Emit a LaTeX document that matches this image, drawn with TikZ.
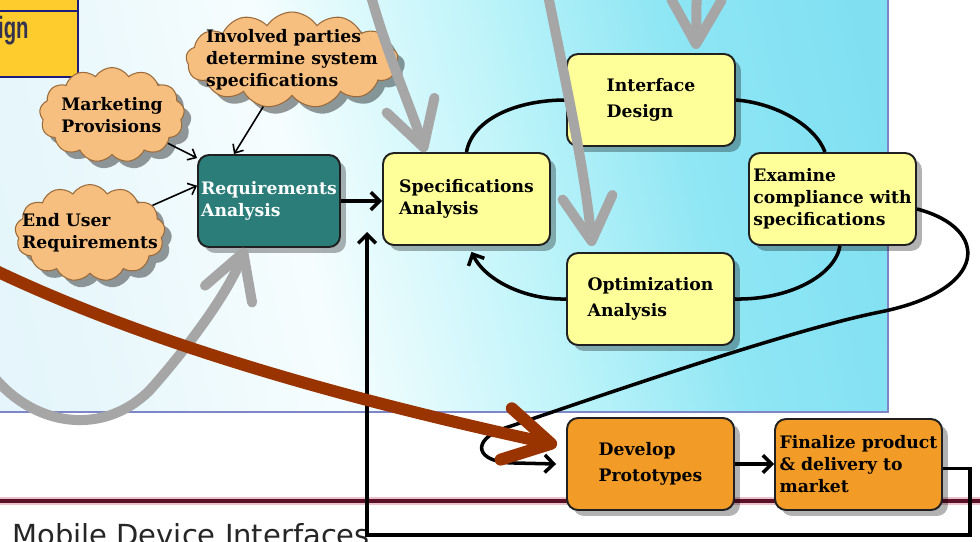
\documentclass[tikz,border=0pt]{standalone}
\usepackage{fontspec}
\setmainfont{DejaVu Serif}
\newfontfamily\labelsans{DejaVu Sans}
\newfontfamily\headsans{Liberation Sans}
\usetikzlibrary{shapes.symbols,arrows.meta,shadows,calc}

\definecolor{panelA}{HTML}{DFF1FA}
\definecolor{panelB}{HTML}{E6F6FB}
\definecolor{panelC}{HTML}{F6FDFE}
\definecolor{panelD}{HTML}{C2F5FA}
\definecolor{panelE}{HTML}{8FE6F4}
\definecolor{panelF}{HTML}{80E0F2}
\definecolor{panelrule}{HTML}{7F86C8}
\definecolor{railcore}{HTML}{5A1026}
\definecolor{railhalo}{HTML}{EBC2CB}
\definecolor{tabyellow}{HTML}{FFCC2E}
\definecolor{tabnavy}{HTML}{1C1C7A}
\definecolor{tabtext}{HTML}{33334F}
\definecolor{noteyellow}{HTML}{FFFF99}
\definecolor{buildorange}{HTML}{F29B26}
\definecolor{reqteal}{HTML}{2A7D78}
\definecolor{boxedge}{HTML}{202020}
\definecolor{cloudfill}{HTML}{F7BF7F}
\definecolor{cloudedge}{HTML}{9A6A3A}
\definecolor{cuegray}{HTML}{A6A6A6}
\definecolor{rust}{HTML}{993300}

\pgfdeclarehorizontalshading{panelshade}{100bp}{color(0bp)=(panelA); color(25bp)=(panelB); color(41bp)=(panelC); color(54bp)=(panelD); color(66bp)=(panelE); color(78bp)=(panelF); color(100bp)=(panelF)}

\newcommand\boxfont{\fontsize{9.8}{12.5}\selectfont\bfseries}
\newcommand\boxfontwide{\fontsize{9.8}{14.8}\selectfont\bfseries}

\begin{document}
\begin{tikzpicture}[x=0.02cm,y=-0.02cm,
  procbox/.style={draw=boxedge, line width=1.1pt, rounded corners=0.22cm,
    minimum width=3.34cm, minimum height=1.84cm, align=left, inner sep=0pt,
    font=\boxfont,
    drop shadow={shadow xshift=0.12cm, shadow yshift=-0.12cm, fill=black, opacity=0.3}},
  notebox/.style={procbox, fill=noteyellow},
  buildbox/.style={procbox, fill=buildorange},
  idea/.style={cloud, cloud puffs=13, cloud puff arc=115, cloud ignores aspect,
    draw=cloudedge, line width=0.6pt, fill=cloudfill, align=left,
    inner xsep=-0.75cm, inner ysep=-0.3cm,
    font=\boxfont,
    drop shadow={shadow xshift=0.14cm, shadow yshift=-0.14cm, fill=black, opacity=0.4}},
  flow/.style={draw=black, line width=2pt},
  flowarrow/.style={flow, -{Straight Barb[length=5pt,width=10pt]}},
  cue/.style={draw=black, line width=0.9pt, -{Straight Barb[length=4pt,width=7pt]}},
  grayarrow/.style={draw=cuegray, line width=0.2cm, line cap=round,
    -{Straight Barb[length=0.88cm,width=1.0cm,round]}},
  rustarrow/.style={draw=rust, line width=0.24cm, line cap=round,
    -{Straight Barb[length=0.92cm,width=1.05cm,round]}}
]
\useasboundingbox (0,0) rectangle (980,541);
\clip (0,0) rectangle (980,541);

% backdrop and the shaded work area
\fill[white] (0,0) rectangle (980,541);
\shade[shading=panelshade, shading angle=13] (-2,-2) rectangle (888,412);
\draw[panelrule, line width=1.2pt] (-2,412) -- (888,412) -- (888,-2);

% lane rule near the bottom
\draw[railhalo, line width=4.6pt] (0,501) -- (980,501);
\draw[railcore, line width=2pt] (0,501) -- (980,501);

% tab in the corner
\draw[fill=tabyellow, draw=tabnavy, line width=1.6pt] (-10,-10) rectangle (78,77);
\draw[tabnavy, line width=1.6pt] (-10,11) -- (78,11);
\node[anchor=base east, inner sep=0pt, text=tabtext, font=\headsans\bfseries\fontsize{17.5}{18}\selectfont]
  (tab) at (29,38) {\scalebox{0.66}[1]{Design}};

% lane label
\node[anchor=base west, inner sep=0pt, text=black!85, font=\labelsans\fontsize{16.5}{18}\selectfont]
  (lane) at (12,545) {Mobile Device Interfaces};

% inputs
\node[idea, minimum width=4.24cm, minimum height=1.92cm] (inv) at (292,60)
  {Involved parties\\determine system\\specifications};
\node[idea, minimum width=2.9cm, minimum height=1.9cm] (mkt) at (112,115)
  {Marketing\\Provisions};
\node[idea, minimum width=3.0cm, minimum height=1.94cm] (eu) at (90,233)
  {End User\\Requirements};

% process steps
\node[procbox, fill=reqteal, text=white, minimum width=2.84cm] (req) at (269,201)
  {Requirements\\Analysis};
\node[notebox] (spec) at (466.5,199) {Specifications\\Analysis};
\node[notebox, font=\boxfontwide, minimum width=3.36cm] (int) at (651,100) {Interface\\Design};
\node[notebox] (exam) at (832.5,199) {Examine\\compliance with\\specifications};
\node[notebox, font=\boxfontwide] (opt) at (650.5,299) {Optimization\\Analysis};
\node[buildbox, font=\boxfontwide] (dev) at (650.5,464) {Develop\\Prototypes};
\node[buildbox, minimum height=1.82cm] (fin) at (858.5,464.5) {Finalize product\\\& delivery to\\market};

% inputs feeding the analysis
\draw[cue] (mkt) -- ([yshift=-0.08cm]req.north west);
\draw[cue] (eu) -- (req.168);
\draw[cue] (inv) -- ([xshift=-0.7cm]req.north);

% main flow
\draw[flowarrow] (req.east) -- (req.east -| spec.west);
\draw[flow] (spec.north) .. controls (472,120) and (515,100) .. (int.west);
\draw[flow] (int.east) .. controls (775,103) and (815,125) .. ([xshift=-0.15cm]exam.north);
\draw[flow] ([xshift=0.15cm]exam.south) .. controls (835,275) and (790,300) .. (opt.east);
\draw[flowarrow] (opt.west) .. controls (525,300) and (485,280) .. ([xshift=0.1cm,yshift=-0.12cm]spec.south);

% hand-off to prototyping
\coordinate (lp1) at (880,312);
\coordinate (lp2) at (505,428);
\coordinate (lp3) at (515,463);
\draw[flowarrow] ([yshift=-0.2cm]exam.east) .. controls (990,228) and (990,290) .. (lp1)
  .. controls (780,332) and (560,410) .. (lp2)
  .. controls (470,440) and (475,463) .. (lp3) -- ([xshift=-0.2cm]dev.west);
\draw[flowarrow] (dev.east) -- (dev.east -| fin.west);

% feedback to the specifications
\coordinate (rb) at (970,535);
\coordinate (lb) at (367,535);
\coordinate (ret) at (367,232);
\draw[flowarrow] ([yshift=-0.08cm]fin.east) -| (rb) -- (lb) -- (ret);

% grey cue arrows
\coordinate (g1s) at (368,-15);
\coordinate (g2s) at (546,-15);
\coordinate (g3s) at (697,-40);
\coordinate (g4s) at (-15,365);
\coordinate (g4m) at (150,390);
\draw[grayarrow] (g1s) .. controls (385,50) and (412,110) .. ([xshift=-0.83cm]spec.north);
\draw[grayarrow] (g2s) .. controls (565,80) and (585,170) .. ([xshift=-1.17cm,yshift=0.12cm]opt.north);
\draw[grayarrow] (g3s) -- ([xshift=0.9cm,yshift=0.08cm]int.north);
\draw[grayarrow] (g4s) .. controls (25,425) and (100,440) .. (g4m)
  .. controls (190,345) and (230,290) .. ([xshift=-0.48cm]req.south);

% rust arrow into prototyping
\coordinate (rs) at (-10,268);
\draw[rustarrow] (rs) .. controls (150,345) and (350,400) .. ([xshift=-0.18cm,yshift=0.38cm]dev.west);
\end{tikzpicture}
\end{document}
